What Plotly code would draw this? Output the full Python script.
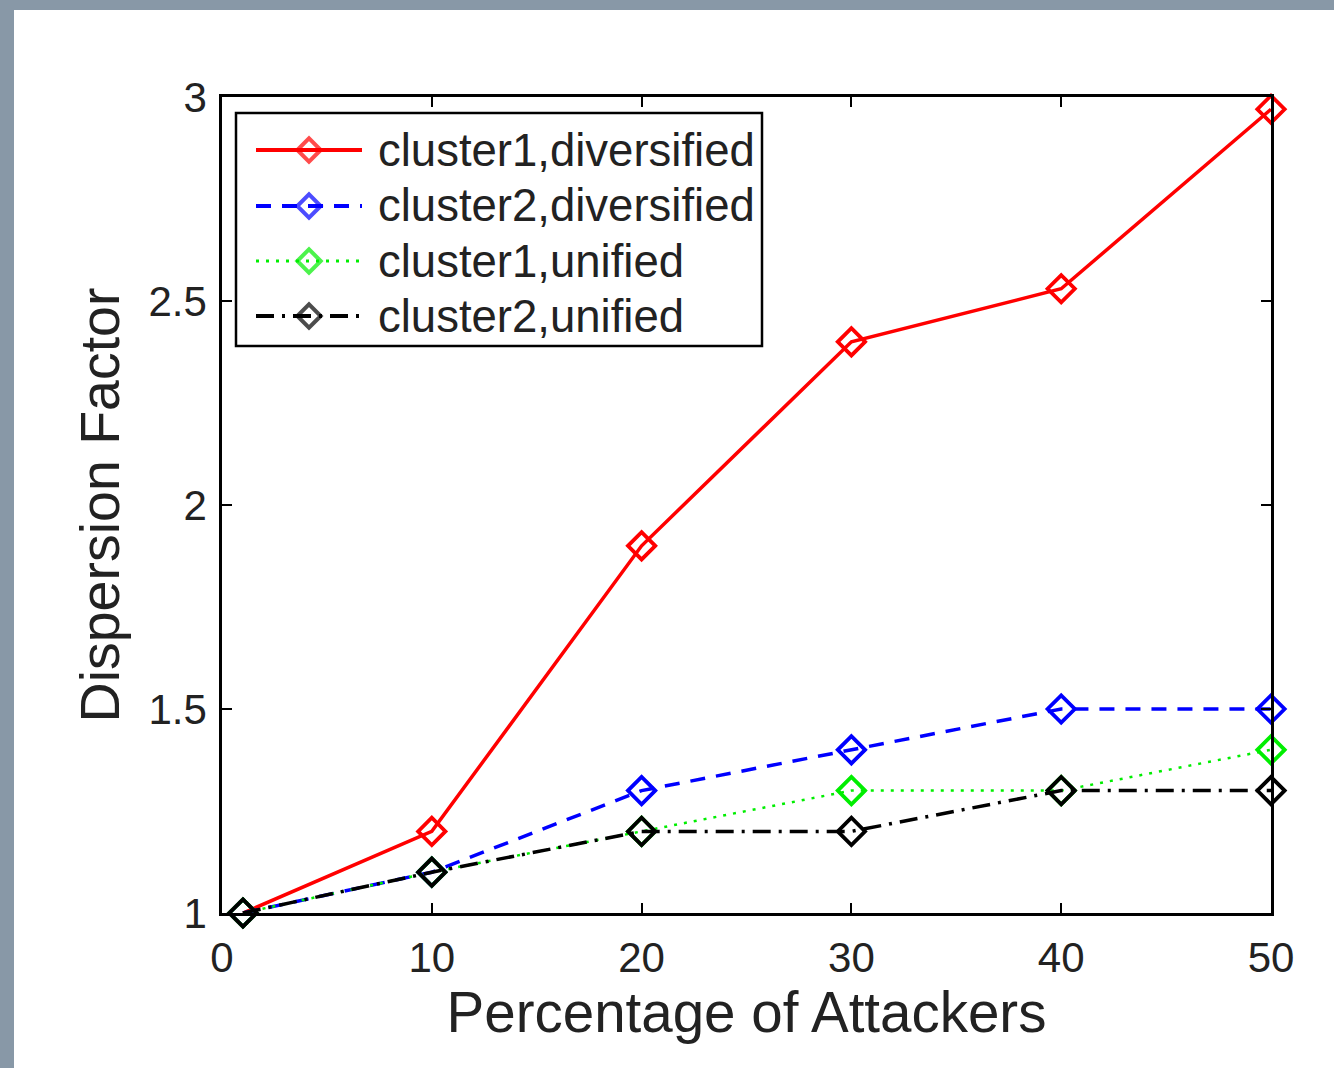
import plotly.graph_objects as go

# ---- data ----
attackers_pct = [1, 10, 20, 30, 40, 50]
c1_diversified = [1.0, 1.2, 1.9, 2.4, 2.53, 2.97]
c2_diversified = [1.0, 1.1, 1.3, 1.4, 1.5, 1.5]
c1_unified = [1.0, 1.1, 1.2, 1.3, 1.3, 1.4]
c2_unified = [1.0, 1.1, 1.2, 1.2, 1.3, 1.3]

series_names = ["cluster1,diversified", "cluster2,diversified",
                "cluster1,unified", "cluster2,unified"]
series_values = [c1_diversified, c2_diversified, c1_unified, c2_unified]

x_ticks = [0, 10, 20, 30, 40, 50]
y_ticks = [1, 1.5, 2, 2.5, 3]
y_ticktext = ["1", "1.5", "2", "2.5", "3"]

# ---- styles ----
colors = ["#ff0000", "#0000ff", "#00ee00", "#000000"]
dashes = ["solid", "15px,11px", "3px,7px", "18px,8px,3px,8px"]
widths = [3.5, 3.5, 2.5, 3.5]
FONT = "Liberation Sans, Arial, sans-serif"
TXT = "#222222"

W, H = 1334, 1068
L, R, T, B = 222, 63, 97, 155
PW, PH = W - L - R, H - T - B


def px_x(px):
    return (px - L) / PW


def px_y(py):
    return (H - B - py) / PH


fig = go.Figure()

for name, vals, col, dash, lw in zip(series_names, series_values, colors, dashes, widths):
    fig.add_trace(go.Scatter(
        x=attackers_pct, y=vals, name=name, mode="lines+markers",
        line=dict(color=col, dash=dash, width=lw),
        marker=dict(symbol="diamond-open", size=21, color=col, line=dict(width=3.8, color=col)),
        cliponaxis=False, showlegend=False,
    ))

# ---- custom legend drawn on an overlay axis spanning the plot area ----
legend_rows_px = [150, 206, 261, 316]
sample_x0, sample_x1 = px_x(256), px_x(362)
for name, col, dash, lw, row in zip(series_names, colors, dashes, widths, legend_rows_px):
    yy = px_y(row)
    fig.add_trace(go.Scatter(
        x=[sample_x0, (sample_x0 + sample_x1) / 2, sample_x1], y=[yy, yy, yy],
        xaxis="x2", yaxis="y2", mode="lines+markers",
        line=dict(color=col, dash=dash, width=lw + 0.5),
        marker=dict(symbol="diamond-open", size=[0, 18, 0], color=col,
                    line=dict(width=4, color=col)),
        showlegend=False, hoverinfo="skip", cliponaxis=False,
    ))
    fig.add_annotation(
        x=px_x(376), y=yy, xref="paper", yref="paper", text=name,
        showarrow=False, xanchor="left", yanchor="middle",
        font=dict(family=FONT, size=45.5, color=TXT),
    )

shapes = [
    # legend frame
    dict(type="rect", xref="paper", yref="paper",
         x0=px_x(236), x1=px_x(762), y0=px_y(346), y1=px_y(113),
         line=dict(color="black", width=2.5), fillcolor="white", layer="below"),
    # window frame strips
    dict(type="rect", xref="paper", yref="paper",
         x0=px_x(0), x1=px_x(14), y0=px_y(H), y1=px_y(0),
         line=dict(width=0), fillcolor="#8898a7", layer="above"),
    dict(type="rect", xref="paper", yref="paper",
         x0=px_x(0), x1=px_x(W), y0=px_y(10), y1=px_y(0),
         line=dict(width=0), fillcolor="#8898a7", layer="above"),
]

axis_common = dict(
    showline=True, linecolor="black", linewidth=2.5, mirror="ticks",
    ticks="inside", ticklen=10, tickwidth=2, tickcolor="black",
    showgrid=False, zeroline=False,
    tickfont=dict(family=FONT, size=42, color=TXT),
)

fig.update_layout(
    width=W, height=H,
    margin=dict(l=L, r=R, t=T, b=B),
    paper_bgcolor="white", plot_bgcolor="white",
    shapes=shapes,
    xaxis=dict(range=[0, 50], tickvals=x_ticks, ticklabelstandoff=6,
               title=dict(text="Percentage of Attackers", standoff=0,
                          font=dict(family=FONT, size=56.5, color=TXT)),
               **axis_common),
    yaxis=dict(range=[1, 3], tickvals=y_ticks, ticktext=y_ticktext, ticklabelstandoff=4,
               title=dict(text="Dispersion Factor", standoff=12,
                          font=dict(family=FONT, size=55.5, color=TXT)),
               **axis_common),
    xaxis2=dict(overlaying="x", range=[0, 1], visible=False, fixedrange=True),
    yaxis2=dict(overlaying="y", range=[0, 1], visible=False, fixedrange=True),
    showlegend=False,
)

fig.write_html("out.html")
